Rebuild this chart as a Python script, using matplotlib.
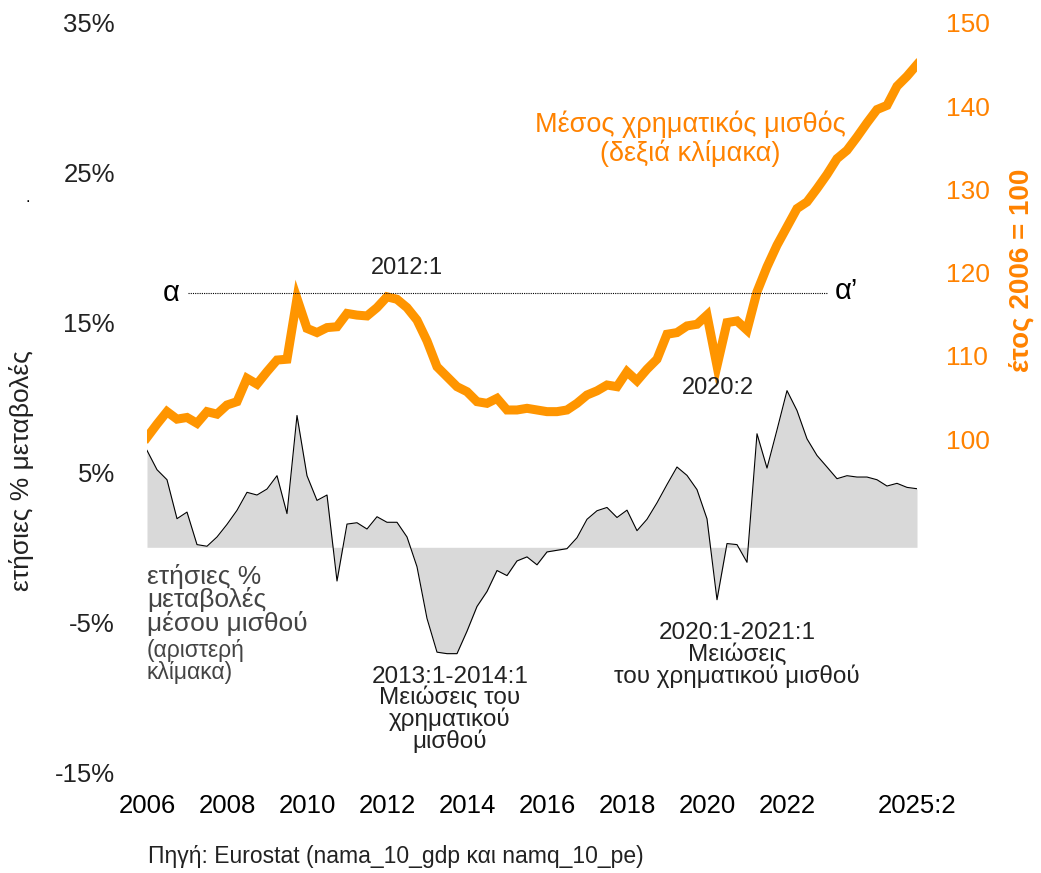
import numpy as np
import matplotlib
matplotlib.use("Agg")
import matplotlib.pyplot as plt

plt.rcParams['font.family'] = ['Liberation Sans', 'DejaVu Sans']
narrow = ['Liberation Sans Narrow', 'Liberation Sans', 'DejaVu Sans']

# quarterly data 2006:1 - 2025:2
# annual % change of average wage (left scale)
wage_change = [6.47, 5.18, 4.51, 1.91, 2.35, 0.18, 0.07, 0.69,
               1.53, 2.47, 3.67, 3.49, 3.89, 4.78, 2.25, 8.8,
               4.78, 3.13, 3.49, -2.25, 1.55, 1.64, 1.22, 2.04,
               1.67, 1.67, 0.69, -1.3, -4.75, -7.0, -7.1, -7.1,
               -5.6, -3.95, -2.95, -1.55, -1.89, -0.91, -0.64, -1.17,
               -0.31, -0.2, -0.09, 0.64, 1.87, 2.44, 2.66, 1.99,
               2.48, 1.11, 1.87, 2.97, 4.19, 5.36, 4.8, 3.85,
               1.9, -3.5, 0.25, 0.18, -1.0, 7.58, 5.29, 7.84,
               10.46, 9.13, 7.24, 6.13, 5.36, 4.58, 4.78, 4.69,
               4.69, 4.51, 4.09, 4.27, 4.0, 3.91]
# average nominal wage, 2006 = 100 (right scale)
wage_index = [100.2, 101.8, 103.3, 102.4, 102.6, 101.9, 103.3, 103.0,
              104.1, 104.5, 107.3, 106.6, 108.1, 109.5, 109.6, 116.9,
              113.3, 112.8, 113.4, 113.5, 115.1, 114.9, 114.8, 115.8,
              117.1, 116.8, 115.8, 114.3, 111.8, 108.7, 107.5, 106.3,
              105.7, 104.5, 104.3, 104.9, 103.5, 103.5, 103.7, 103.5,
              103.3, 103.3, 103.5, 104.3, 105.3, 105.8, 106.5, 106.3,
              108.1, 107.0, 108.4, 109.6, 112.6, 112.8, 113.6, 113.8,
              114.9, 108.8, 114.0, 114.2, 113.1, 117.7, 120.7, 123.3,
              125.5, 127.7, 128.5, 130.1, 131.8, 133.7, 134.7, 136.3,
              138.0, 139.6, 140.1, 142.4, 143.6, 145.0]
x_ticks = [0, 8, 16, 24, 32, 40, 48, 56, 64, 77]
x_labels = ['2006', '2008', '2010', '2012', '2014', '2016', '2018', '2020', '2022', '2025:2']
left_ticks = [-15, -5, 5, 15, 25, 35]
right_ticks = [100, 110, 120, 130, 140, 150]
alpha_level = 117.5

x = np.arange(len(wage_change))
orange_line = '#FF9500'
orange_text = '#FF8200'

fig = plt.figure(figsize=(10.41, 8.73), dpi=100)
W, H = 1041, 873
ax = fig.add_axes([147 / W, 1 - 772 / H, 770 / W, 749 / H])
ax2 = ax.twinx()

ax.fill_between(x, 0, wage_change, color='#D9D9D9', lw=0)
ax.plot(x, wage_change, color='black', lw=0.8)
ax.set_xlim(0, 77)
ax.set_ylim(-15, 35)
ax.set_yticks(left_ticks)
ax.set_yticklabels([f'{t}%' for t in left_ticks])
ax.set_xticks(x_ticks)
ax.set_xticklabels(x_labels, family=narrow, fontsize=18.5)
ax.tick_params(axis='x', length=0, pad=16)
ax.tick_params(axis='y', length=0, pad=23, labelsize=18.5, labelcolor='#222222')

ax2.plot(x, wage_index, color=orange_line, lw=6.5, solid_joinstyle='miter')
ax2.set_ylim(60.0, 149.9)
ax2.set_yticks(right_ticks)
ax2.tick_params(axis='y', length=0, pad=21, labelsize=19, labelcolor=orange_text)

for a in (ax, ax2):
    for s in a.spines.values():
        s.set_visible(False)

# dotted reference line a - a'
ax2.plot([4.1, 68.1], [alpha_level, alpha_level], color='black', lw=0.8, ls=(0, (1, 1)))
ax2.text(2.4, alpha_level, 'α', fontsize=21, ha='center', va='center')
ax2.text(68.8, alpha_level + 0.3, 'α’', fontsize=21, ha='left', va='center')
ax2.text(26, 120.6, '2012:1', fontsize=17, ha='center', va='center', color='#222222')
ax2.text(57.1, 106.1, '2020:2', fontsize=17, ha='center', va='center', color='#222222')
ax2.text(54.3, 136.1, 'Μέσος χρηματικός μισθός\n(δεξιά κλίμακα)', fontsize=19.5,
         ha='center', va='center', color=orange_text, linespacing=1.1)

ax.text(0, -1.1, 'ετήσιες %\nμεταβολές\nμέσου μισθού', fontsize=19, ha='left', va='top',
        color='#444444', linespacing=0.92)
ax.text(0, -6.1, '(αριστερή\nκλίμακα)', fontsize=16.5, ha='left', va='top',
        color='#444444', linespacing=0.95)
ax.text(30.3, -10.85, '2013:1-2014:1\nΜειώσεις του\nχρηματικού\nμισθού', fontsize=17.5,
        ha='center', va='center', color='#222222', linespacing=0.92)
ax.text(59, -7.2, '2020:1-2021:1\nΜειώσεις\nτου χρηματικού μισθού', fontsize=17.5,
        ha='center', va='center', color='#222222', linespacing=0.95)

fig.text(22 / W, 1 - 471 / H, 'ετήσιες % μεταβολές', rotation=90, fontsize=19,
         ha='center', va='center', family=narrow, color='#222222')
fig.text(28 / W, 1 - 198 / H, '.', fontsize=12, ha='center', va='center')
fig.text(1022 / W, 1 - 270 / H, 'έτος 2006 = 100', rotation=90, fontsize=20,
         ha='center', va='center', color=orange_text, fontweight='bold')
fig.text(148 / W, 1 - 856 / H, 'Πηγή: Eurostat (nama_10_gdp και namq_10_pe)',
         fontsize=16.5, ha='left', va='center', family=narrow, color='#222222')

fig.savefig('out.png', dpi=100, facecolor='white')
